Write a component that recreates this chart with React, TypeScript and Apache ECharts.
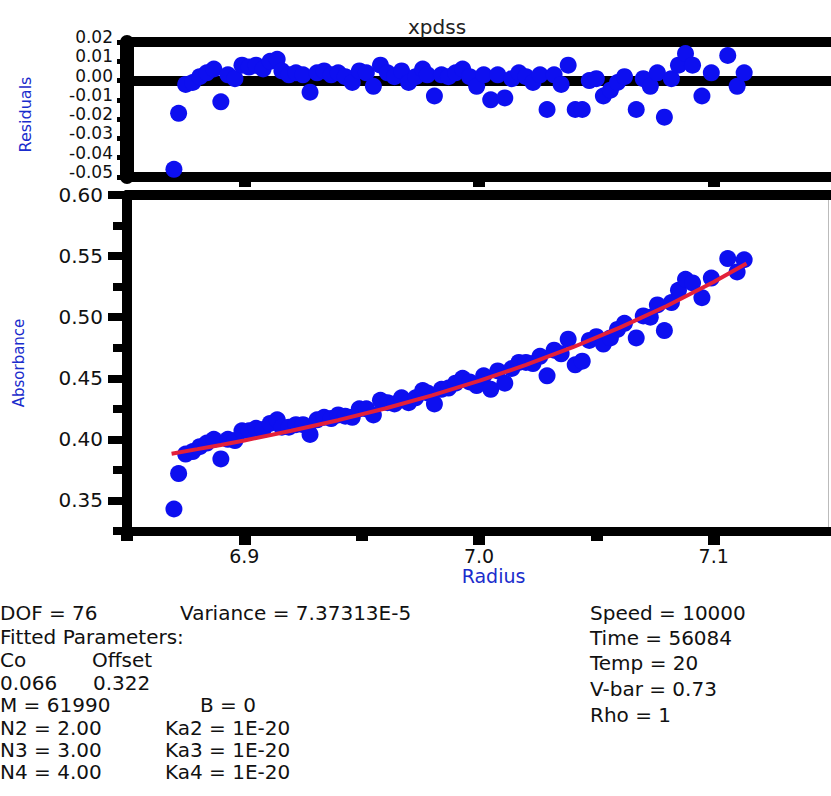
import React, { useEffect, useRef } from 'react';
import * as echarts from 'echarts';

// ---------- data ----------
const radius = [
  6.870, 6.872, 6.875, 6.878, 6.881, 6.884, 6.887, 6.890, 6.893, 6.896,
  6.899, 6.902, 6.905, 6.908, 6.911, 6.914, 6.916, 6.919, 6.922, 6.925,
  6.928, 6.931, 6.934, 6.937, 6.940, 6.943, 6.946, 6.949, 6.952, 6.955,
  6.958, 6.961, 6.964, 6.967, 6.970, 6.973, 6.976, 6.978, 6.981, 6.984,
  6.987, 6.990, 6.993, 6.996, 6.999, 7.002, 7.005, 7.008, 7.011, 7.014,
  7.017, 7.020, 7.023, 7.026, 7.029, 7.032, 7.035, 7.038, 7.041, 7.044,
  7.047, 7.050, 7.053, 7.056, 7.059, 7.062, 7.067, 7.070, 7.073, 7.076,
  7.079, 7.082, 7.085, 7.088, 7.091, 7.095, 7.099, 7.106, 7.110, 7.113,
];

const absorbance = [
  0.343, 0.372, 0.388, 0.390, 0.394, 0.397, 0.400, 0.384, 0.400, 0.399,
  0.407, 0.407, 0.409, 0.408, 0.413, 0.416, 0.410, 0.410, 0.412, 0.412,
  0.404, 0.416, 0.418, 0.417, 0.420, 0.419, 0.418, 0.425, 0.425, 0.420,
  0.432, 0.430, 0.429, 0.434, 0.430, 0.434, 0.440, 0.438, 0.429, 0.441,
  0.442, 0.446, 0.450, 0.447, 0.444, 0.452, 0.441, 0.456, 0.446, 0.458,
  0.463, 0.463, 0.462, 0.468, 0.452, 0.473, 0.470, 0.482, 0.461, 0.464,
  0.481, 0.484, 0.478, 0.483, 0.490, 0.495, 0.483, 0.501, 0.500, 0.510,
  0.489, 0.512, 0.522, 0.531, 0.528, 0.516, 0.532, 0.548, 0.537, 0.547,
];

const residuals = [
  -0.046, -0.017, -0.002, -0.001, 0.002, 0.004, 0.006, -0.011, 0.003, 0.001,
  0.008, 0.007, 0.008, 0.006, 0.010, 0.011, 0.005, 0.003, 0.004, 0.003,
  -0.006, 0.004, 0.005, 0.003, 0.004, 0.002, -0.001, 0.005, 0.004, -0.003,
  0.008, 0.004, 0.002, 0.005, -0.001, 0.002, 0.006, 0.003, -0.008, 0.003,
  0.002, 0.004, 0.006, 0.002, -0.003, 0.003, -0.010, 0.003, -0.009, 0.001,
  0.004, 0.002, -0.001, 0.003, -0.015, 0.003, -0.002, 0.008, -0.015, -0.015,
  0.000, 0.001, -0.008, -0.005, -0.001, 0.002, -0.015, 0.001, -0.003, 0.004,
  -0.019, 0.001, 0.008, 0.014, 0.008, -0.008, 0.004, 0.013, -0.003, 0.004,
];

const fitRadius = [6.869, 6.88, 6.89, 6.90, 6.92, 6.94, 6.96, 6.98, 7.00, 7.02, 7.04, 7.06, 7.08, 7.10, 7.114];
const fitAbsorbance = [0.3883, 0.392, 0.3954, 0.3991, 0.407, 0.4157, 0.4253, 0.436, 0.4478, 0.4609, 0.4754, 0.4914, 0.5092, 0.5288, 0.544];

const residualTicks = [-0.05, -0.04, -0.03, -0.02, -0.01, 0, 0.01, 0.02];
const absMajorTicks = [0.35, 0.4, 0.45, 0.5, 0.55, 0.6];
const absMinorTicks = [0.325, 0.375, 0.425, 0.475, 0.525, 0.575];
const radiusMajorTicks = [6.9, 7.0, 7.1];
const radiusMinorTicks = [6.85, 6.95, 7.05];

const leftStats = [
  ['DOF = 76', 'Variance = 7.37313E-5'],
  ['Fitted Parameters:', ''],
  ['Co', 'Offset'],
  ['0.066', '0.322'],
  ['M = 61990', 'B = 0'],
  ['N2 = 2.00', 'Ka2 = 1E-20'],
  ['N3 = 3.00', 'Ka3 = 1E-20'],
  ['N4 = 4.00', 'Ka4 = 1E-20'],
];
const rightStats = ['Speed = 10000', 'Time = 56084', 'Temp = 20', 'V-bar = 0.73', 'Rho = 1'];

// ---------- styling ----------
const FONT = '"DejaVu Sans", sans-serif';
const BLUE = '#0d0ff0';
const NAME_BLUE = '#1a2ccc';
const RED = '#e3203a';

const leftRowY = [613, 637, 660, 683, 705, 728, 750, 772];
const leftColX = [180, 0, 92, 93, 200, 165, 165, 165];
const rightRowY = [613, 638, 663, 689, 715];

function buildOption() {
  const noSplit = { show: false };
  const xBase = { type: 'value', min: 6.85, max: 7.15, splitLine: noSplit };

  const graphics: any[] = [];
  leftStats.forEach((row, i) => {
    graphics.push({
      type: 'text', x: 0, y: leftRowY[i],
      style: { text: row[0], fill: '#111', fontSize: 20, fontFamily: FONT, verticalAlign: 'middle' },
    });
    if (row[1]) {
      graphics.push({
        type: 'text', x: leftColX[i], y: leftRowY[i],
        style: { text: row[1], fill: '#111', fontSize: 20, fontFamily: FONT, verticalAlign: 'middle' },
      });
    }
  });
  rightStats.forEach((t, i) => {
    graphics.push({
      type: 'text', x: 590, y: rightRowY[i],
      style: { text: t, fill: '#111', fontSize: 20, fontFamily: FONT, verticalAlign: 'middle' },
    });
  });
  graphics.push({
    type: 'line', shape: { x1: 828.5, y1: 195, x2: 828.5, y2: 531 },
    style: { stroke: '#bbbbbb', lineWidth: 1 },
  });

  return {
    animation: false,
    backgroundColor: '#ffffff',
    title: {
      text: 'xpdss', left: 403, top: 12,
      textStyle: { fontSize: 20, fontWeight: 'normal', fontFamily: FONT, color: '#222' },
    },
    grid: [
      { left: 127, right: -7, top: 42, bottom: 619 },
      { left: 127, right: -7, top: 195, bottom: 265 },
    ],
    xAxis: [
      {
        ...xBase, gridIndex: 0, position: 'bottom',
        axisLine: { show: true, onZero: false, lineStyle: { color: '#000', width: 10 } },
        axisTick: { show: true, customValues: radiusMajorTicks, length: 10, lineStyle: { color: '#000', width: 12 } },
        axisLabel: { show: false },
      },
      {
        ...xBase, gridIndex: 0, position: 'top',
        axisLine: { show: true, onZero: false, lineStyle: { color: '#000', width: 10 } },
        axisTick: { show: false }, axisLabel: { show: false },
      },
      {
        ...xBase, gridIndex: 1, position: 'bottom',
        axisLine: { show: true, onZero: false, lineStyle: { color: '#000', width: 9 } },
        axisTick: { show: true, customValues: radiusMinorTicks, length: 10, lineStyle: { color: '#000', width: 12 } },
        axisLabel: { show: false },
      },
      {
        ...xBase, gridIndex: 1, position: 'bottom',
        axisLine: { show: false, onZero: false },
        axisTick: { show: true, customValues: radiusMajorTicks, length: 14, lineStyle: { color: '#000', width: 12 } },
        axisLabel: {
          show: true, customValues: radiusMajorTicks, margin: 17, lineHeight: 16,
          formatter: (v: number) => v.toFixed(1),
          fontSize: 19, fontFamily: FONT, color: '#111',
        },
        name: 'Radius', nameLocation: 'middle', nameGap: 37,
        nameTextStyle: { color: NAME_BLUE, fontSize: 19, lineHeight: 16, fontFamily: FONT, padding: [0, 0, 0, 29] },
      },
      {
        ...xBase, gridIndex: 1, position: 'top',
        axisLine: { show: true, onZero: false, lineStyle: { color: '#000', width: 10 } },
        axisTick: { show: false }, axisLabel: { show: false },
      },
    ],
    yAxis: [
      {
        type: 'value', gridIndex: 0, position: 'left', min: -0.05, max: 0.02, splitLine: noSplit,
        axisLine: { show: true, onZero: false, lineStyle: { color: '#000', width: 14 } },
        axisTick: { show: true, customValues: residualTicks, length: 10, lineStyle: { color: '#000', width: 5 } },
        axisLabel: {
          show: true, customValues: residualTicks, margin: 14,
          formatter: (v: number) => (Math.abs(v) < 1e-9 ? 0 : v).toFixed(2),
          fontSize: 17, lineHeight: 14, verticalAlign: 'bottom', fontFamily: FONT, color: '#111',
          padding: [0, 0, -2, 0],
        },
        name: 'Residuals', nameLocation: 'middle', nameGap: 94, nameRotate: 90,
        nameTextStyle: { color: NAME_BLUE, fontSize: 16, fontFamily: FONT, padding: [0, 10, 0, 0] },
      },
      {
        type: 'value', gridIndex: 1, position: 'left', min: 0.325, max: 0.6, splitLine: noSplit,
        axisLine: { show: true, onZero: false, lineStyle: { color: '#000', width: 10 } },
        axisTick: { show: true, customValues: absMinorTicks, length: 14, lineStyle: { color: '#000', width: 8 } },
        axisLabel: { show: false },
      },
      {
        type: 'value', gridIndex: 1, position: 'left', min: 0.325, max: 0.6, splitLine: noSplit,
        axisLine: { show: false, onZero: false },
        axisTick: { show: true, customValues: absMajorTicks, length: 19, lineStyle: { color: '#000', width: 8 } },
        axisLabel: {
          show: true, customValues: absMajorTicks, margin: 24, lineHeight: 16,
          formatter: (v: number) => v.toFixed(2),
          fontSize: 20, fontFamily: FONT, color: '#111',
        },
        name: 'Absorbance', nameLocation: 'middle', nameGap: 101, nameRotate: 90,
        nameTextStyle: { color: NAME_BLUE, fontSize: 15, fontFamily: FONT },
      },
    ],
    series: [
      {
        type: 'scatter', xAxisIndex: 0, yAxisIndex: 0, z: 3,
        symbol: 'circle', symbolSize: 17,
        itemStyle: { color: BLUE, opacity: 1 },
        data: radius.map((r, i) => [r, residuals[i]]),
        markLine: {
          silent: true, z: 1, symbol: 'none',
          label: { show: false },
          lineStyle: { color: '#000', width: 10, type: 'solid' },
          data: [{ yAxis: 0 }],
        },
      },
      {
        type: 'scatter', xAxisIndex: 2, yAxisIndex: 1, z: 3,
        symbol: 'circle', symbolSize: 17,
        itemStyle: { color: BLUE, opacity: 1 },
        data: radius.map((r, i) => [r, absorbance[i]]),
      },
      {
        type: 'line', xAxisIndex: 2, yAxisIndex: 1, z: 4,
        showSymbol: false, smooth: false,
        lineStyle: { color: RED, width: 4 },
        data: fitRadius.map((r, i) => [r, fitAbsorbance[i]]),
      },
    ],
    graphic: graphics,
  };
}

export default function App() {
  const ref = useRef<HTMLDivElement>(null);
  useEffect(() => {
    if (!ref.current) return;
    const chart = echarts.init(ref.current, null, { renderer: 'svg' });
    chart.setOption(buildOption() as any);
    return () => chart.dispose();
  }, []);
  return (
    <div
      ref={ref}
      style={{ position: 'fixed', left: 0, top: 0, width: 831, height: 796, background: '#fff' }}
    />
  );
}
